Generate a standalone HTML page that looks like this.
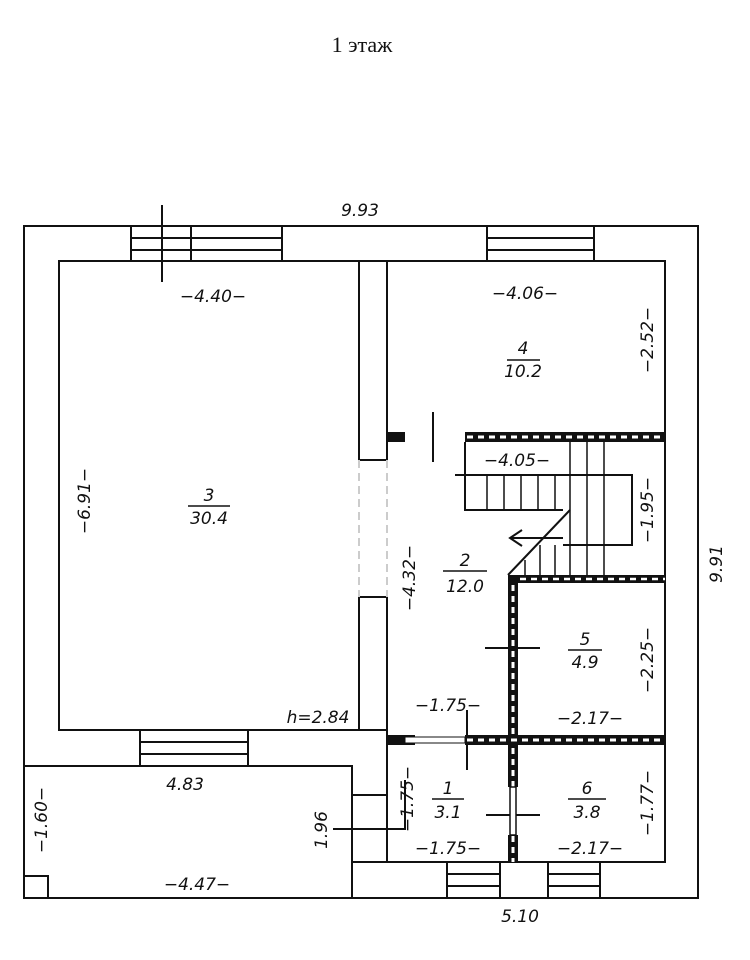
<!DOCTYPE html>
<html><head><meta charset="utf-8"><style>
html,body{margin:0;padding:0;background:#fff}
svg{display:block}
text{font-family:"DejaVu Sans","Liberation Sans",sans-serif;font-style:italic;font-size:17px;fill:#111}
.t{font-family:"Liberation Serif",serif;font-style:normal;font-size:22px}
</style></head><body>
<svg width="750" height="960" viewBox="0 0 750 960" xmlns="http://www.w3.org/2000/svg">
<text class="t" x="362" y="52" text-anchor="middle">1 этаж</text>
<g stroke="#111" stroke-width="2" fill="none">
<!-- outer -->
<polyline points="24,898 24,226 698,226 698,898 24,898"/>
<rect x="24" y="766" width="328" height="132"/>
<rect x="24" y="876" width="24" height="22"/>
<!-- room 3 -->
<polyline points="359,460 359,261 59,261 59,730 359,730 359,597"/>
<rect x="359" y="261" width="28" height="199"/>
<rect x="359" y="597" width="28" height="133"/>
<line x1="359" y1="460" x2="359" y2="597" stroke="#ccc" stroke-dasharray="8,5"/>
<line x1="387" y1="460" x2="387" y2="597" stroke="#ccc" stroke-dasharray="8,5"/>
<!-- right rooms outline -->
<polyline points="387,730 387,862 665,862 665,261 387,261 387,460"/>
<line x1="387" y1="597" x2="387" y2="730"/>
<!-- top windows -->
<rect x="131" y="226" width="151" height="35"/>
<line x1="131" y1="238" x2="282" y2="238"/><line x1="131" y1="250" x2="282" y2="250"/>
<line x1="191" y1="226" x2="191" y2="261"/>
<line x1="162" y1="205" x2="162" y2="282"/>
<rect x="487" y="226" width="107" height="35"/>
<line x1="487" y1="238" x2="594" y2="238"/><line x1="487" y1="250" x2="594" y2="250"/>
<!-- bottom-left window -->
<rect x="140" y="730" width="108" height="36"/>
<line x1="140" y1="742" x2="248" y2="742"/><line x1="140" y1="754" x2="248" y2="754"/>
<!-- porch step -->
<line x1="352" y1="795" x2="387" y2="795"/>
<line x1="352" y1="862" x2="387" y2="862"/>
<polyline points="333,829 405,829 405,780"/>
<!-- bottom windows -->
<rect x="447" y="862" width="53" height="36"/>
<line x1="447" y1="874" x2="500" y2="874"/><line x1="447" y1="886" x2="500" y2="886"/>
<rect x="548" y="862" width="52" height="36"/>
<line x1="548" y1="874" x2="600" y2="874"/><line x1="548" y1="886" x2="600" y2="886"/>
<!-- stairs -->
<polyline points="465,442 465,510 563,510"/>
<polyline points="455,475 632,475 632,545 563,545"/>
<g stroke-width="1.5">
<line x1="487" y1="475" x2="487" y2="510"/><line x1="504" y1="475" x2="504" y2="510"/>
<line x1="521" y1="475" x2="521" y2="510"/><line x1="538" y1="475" x2="538" y2="510"/>
<line x1="555" y1="475" x2="555" y2="510"/>
<line x1="570" y1="442" x2="570" y2="575"/><line x1="587" y1="442" x2="587" y2="575"/>
<line x1="604" y1="442" x2="604" y2="575"/>
<line x1="555" y1="545" x2="555" y2="575"/><line x1="540" y1="545" x2="540" y2="575"/>
<line x1="525" y1="560" x2="525" y2="575"/>
</g>
<line x1="508" y1="575" x2="570" y2="510"/>
<polyline points="522,530 510,538 522,546"/>
<line x1="510" y1="538" x2="563" y2="538"/>
<!-- door ticks -->
<line x1="433" y1="412" x2="433" y2="462"/>
<line x1="485" y1="648" x2="540" y2="648"/>
<line x1="467" y1="710" x2="467" y2="770"/>
<line x1="486" y1="815" x2="540" y2="815"/>
</g>
<!-- hatched walls -->
<g>
<rect x="387" y="432" width="18" height="10" fill="#111"/>
<rect x="465" y="432" width="200" height="10" fill="#111"/>
<line x1="467" y1="437" x2="665" y2="437" stroke="#fff" stroke-width="3" stroke-dasharray="6,5"/>
<rect x="508" y="575" width="157" height="8" fill="#111"/>
<line x1="520" y1="579" x2="665" y2="579" stroke="#fff" stroke-width="2.5" stroke-dasharray="6,5"/>
<rect x="508" y="575" width="10" height="160" fill="#111"/>
<line x1="513" y1="585" x2="513" y2="735" stroke="#fff" stroke-width="3" stroke-dasharray="6,5"/>
<rect x="387" y="735" width="28" height="10" fill="#111"/>
<rect x="465" y="735" width="200" height="10" fill="#111"/>
<line x1="467" y1="740" x2="665" y2="740" stroke="#fff" stroke-width="3" stroke-dasharray="6,5"/>
<rect x="508" y="745" width="10" height="42" fill="#111"/>
<rect x="508" y="835" width="10" height="27" fill="#111"/>
<line x1="513" y1="748" x2="513" y2="862" stroke="#fff" stroke-width="3" stroke-dasharray="6,5"/>
<rect x="510" y="787" width="6" height="48" fill="#fff" stroke="#111" stroke-width="1.5"/>
<rect x="405" y="737" width="60" height="6" fill="#fff" stroke="#111" stroke-width="1"/>
</g>
<!-- labels -->
<text x="360" y="216" text-anchor="middle">9.93</text>
<text x="213" y="302" text-anchor="middle">−4.40−</text>
<text x="525" y="299" text-anchor="middle">−4.06−</text>
<text x="523" y="354" text-anchor="middle">4</text>
<line x1="507" y1="360" x2="540" y2="360" stroke="#111" stroke-width="1.5"/>
<text x="523" y="377" text-anchor="middle">10.2</text>
<text x="209" y="501" text-anchor="middle">3</text>
<line x1="188" y1="506" x2="230" y2="506" stroke="#111" stroke-width="1.5"/>
<text x="209" y="524" text-anchor="middle">30.4</text>
<text x="517" y="466" text-anchor="middle">−4.05−</text>
<text x="465" y="566" text-anchor="middle">2</text>
<line x1="443" y1="571" x2="487" y2="571" stroke="#111" stroke-width="1.5"/>
<text x="465" y="592" text-anchor="middle">12.0</text>
<text x="585" y="645" text-anchor="middle">5</text>
<line x1="568" y1="650" x2="602" y2="650" stroke="#111" stroke-width="1.5"/>
<text x="585" y="668" text-anchor="middle">4.9</text>
<text x="448" y="711" text-anchor="middle">−1.75−</text>
<text x="590" y="724" text-anchor="middle">−2.17−</text>
<text x="448" y="794" text-anchor="middle">1</text>
<line x1="432" y1="799" x2="464" y2="799" stroke="#111" stroke-width="1.5"/>
<text x="448" y="818" text-anchor="middle">3.1</text>
<text x="587" y="794" text-anchor="middle">6</text>
<line x1="568" y1="799" x2="606" y2="799" stroke="#111" stroke-width="1.5"/>
<text x="587" y="818" text-anchor="middle">3.8</text>
<text x="448" y="854" text-anchor="middle">−1.75−</text>
<text x="590" y="854" text-anchor="middle">−2.17−</text>
<text x="318" y="723" text-anchor="middle">h=2.84</text>
<text x="185" y="790" text-anchor="middle">4.83</text>
<text x="197" y="890" text-anchor="middle">−4.47−</text>
<text x="520" y="922" text-anchor="middle">5.10</text>
<g>
<text transform="translate(90,501) rotate(-90)" text-anchor="middle">−6.91−</text>
<text transform="translate(653,340) rotate(-90)" text-anchor="middle">−2.52−</text>
<text transform="translate(653,510) rotate(-90)" text-anchor="middle">−1.95−</text>
<text transform="translate(722,564) rotate(-90)" text-anchor="middle">9.91</text>
<text transform="translate(415,578) rotate(-90)" text-anchor="middle">−4.32−</text>
<text transform="translate(653,660) rotate(-90)" text-anchor="middle">−2.25−</text>
<text transform="translate(413,799) rotate(-90)" text-anchor="middle">−1.75−</text>
<text transform="translate(653,803) rotate(-90)" text-anchor="middle">−1.77−</text>
<text transform="translate(47,820) rotate(-90)" text-anchor="middle">−1.60−</text>
<text transform="translate(327,830) rotate(-90)" text-anchor="middle">1.96</text>
</g>
</svg>
</body></html>
